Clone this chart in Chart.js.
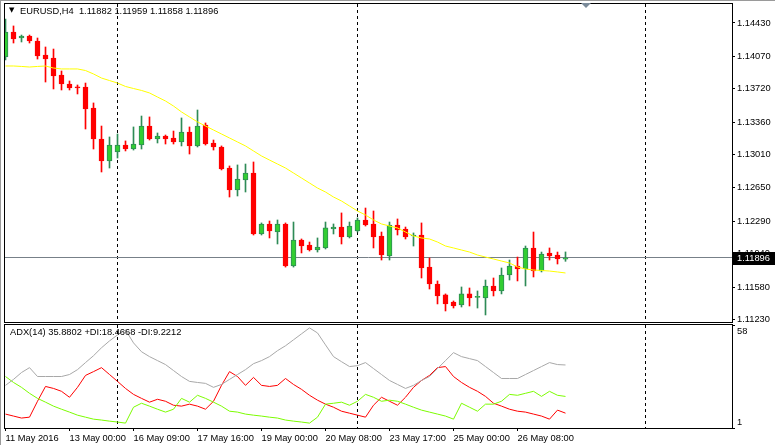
<!DOCTYPE html>
<html>
<head>
<meta charset="utf-8">
<script src="https://cdn.jsdelivr.net/npm/chart.js@4.4.1/dist/chart.umd.min.js"></script>
<style>
  html, body { margin: 0; padding: 0; background: #fff; }
  body { width: 775px; height: 445px; position: relative; overflow: hidden; font-family: "Liberation Sans", Arial, sans-serif; }
  #frame { position: absolute; left: 0; top: 0; width: 775px; height: 445px; border-left: 1px solid #9a9a9a; border-top: 1px solid #9a9a9a; box-sizing: border-box; pointer-events: none; }
  #mainWrap { position: absolute; left: 0; top: 0; width: 775px; height: 324px; }
  #adxWrap { position: absolute; left: 0; top: 323px; width: 775px; height: 122px; }
  canvas { display: block; }
  .hdr { position: absolute; font-size: 9.3px; line-height: 1; color: #000; white-space: pre; }
  #hdrArrow { left: 9px; top: 7px; font-size: 7px; font-family: "DejaVu Sans", sans-serif; }
  #hdrMain { left: 20px; top: 7px; }
  #hdrAdx { left: 10px; top: 328px; }
</style>
</head>
<body>
<div id="mainWrap"><canvas id="chartMain" width="775" height="324"></canvas></div>
<div id="adxWrap"><canvas id="chartAdx" width="775" height="122"></canvas></div>
<div id="hdrArrow" class="hdr">▼</div>
<div id="hdrMain" class="hdr"></div>
<div id="hdrAdx" class="hdr"></div>
<div id="frame"></div>
<script>
// EURUSD H4 candles, oldest first
const symbolName = 'EURUSD,H4';
const open = [1.14063, 1.14333, 1.14268, 1.14290, 1.14236, 1.14085, 1.14052, 1.13869, 1.13772, 1.13739,
  1.13739, 1.13513, 1.13178, 1.12941, 1.13038, 1.13113, 1.13070, 1.13113, 1.13318, 1.13178,
  1.13210, 1.13189, 1.13146, 1.13254, 1.13103, 1.13329, 1.13135, 1.13092, 1.12865, 1.12628,
  1.12736, 1.12811, 1.12153, 1.12261, 1.12174, 1.12261, 1.11807, 1.12088, 1.12034, 1.11980,
  1.12002, 1.12207, 1.12228, 1.12120, 1.12185, 1.12304, 1.12261, 1.12131, 1.11915, 1.12250,
  1.12207, 1.12131, 1.12142, 1.11796, 1.11613, 1.11495, 1.11419, 1.11387, 1.11506, 1.11468,
  1.11463, 1.11592, 1.11538, 1.11710, 1.11807, 1.11775, 1.12002, 1.11753, 1.11948, 1.11926,
  1.11882];
const high = [1.14473, 1.14398, 1.14300, 1.14300, 1.14268, 1.14171, 1.14149, 1.13912, 1.13804, 1.13761,
  1.13782, 1.13567, 1.13318, 1.13200, 1.13232, 1.13157, 1.13308, 1.13426, 1.13416, 1.13243,
  1.13221, 1.13264, 1.13405, 1.13308, 1.13491, 1.13351, 1.13167, 1.13103, 1.12887, 1.12898,
  1.12908, 1.12930, 1.12272, 1.12293, 1.12304, 1.12272, 1.12282, 1.12099, 1.12066, 1.12110,
  1.12282, 1.12261, 1.12380, 1.12282, 1.12326, 1.12433, 1.12401, 1.12174, 1.12282, 1.12315,
  1.12228, 1.12164, 1.12272, 1.11894, 1.11646, 1.11506, 1.11430, 1.11581, 1.11570, 1.11538,
  1.11656, 1.11678, 1.11786, 1.11872, 1.11904, 1.12023, 1.12174, 1.11958, 1.12002, 1.11958,
  1.11959];
const low = [1.14031, 1.14214, 1.14225, 1.14214, 1.14041, 1.13793, 1.13718, 1.13707, 1.13707, 1.13664,
  1.13286, 1.13070, 1.12822, 1.12865, 1.12973, 1.13049, 1.13059, 1.13070, 1.13167, 1.13135,
  1.13124, 1.13124, 1.13103, 1.13016, 1.13092, 1.13113, 1.13059, 1.12844, 1.12552, 1.12563,
  1.12606, 1.12142, 1.12142, 1.12110, 1.12045, 1.11796, 1.11796, 1.11948, 1.11969, 1.11958,
  1.11991, 1.12153, 1.12045, 1.12110, 1.12174, 1.12239, 1.12002, 1.11872, 1.11872, 1.12142,
  1.12099, 1.12023, 1.11678, 1.11559, 1.11398, 1.11322, 1.11354, 1.11365, 1.11376, 1.11354,
  1.11279, 1.11484, 1.11506, 1.11656, 1.11646, 1.11592, 1.11689, 1.11743, 1.11872, 1.11829,
  1.11858];
const close = [1.14333, 1.14257, 1.14290, 1.14236, 1.14074, 1.14041, 1.13858, 1.13772, 1.13729, 1.13729,
  1.13502, 1.13178, 1.12941, 1.13113, 1.13113, 1.13070, 1.13124, 1.13318, 1.13178, 1.13210,
  1.13178, 1.13146, 1.13254, 1.13103, 1.13318, 1.13124, 1.13092, 1.12854, 1.12628, 1.12746,
  1.12811, 1.12153, 1.12261, 1.12185, 1.12261, 1.11807, 1.12088, 1.12023, 1.11980, 1.12012,
  1.12218, 1.12228, 1.12120, 1.12239, 1.12304, 1.12250, 1.12120, 1.11926, 1.12250, 1.12196,
  1.12120, 1.12142, 1.11786, 1.11613, 1.11484, 1.11398, 1.11376, 1.11506, 1.11463, 1.11473,
  1.11592, 1.11538, 1.11710, 1.11807, 1.11775, 1.12002, 1.11753, 1.11937, 1.11915, 1.11883,
  1.11896];
// moving average (yellow)
const movingAvg = [1.13966, 1.13966, 1.13961, 1.13955, 1.13961, 1.13966, 1.13944, 1.13934, 1.13934, 1.13934,
  1.13917, 1.13880, 1.13836, 1.13809, 1.13782, 1.13745, 1.13723, 1.13702, 1.13675, 1.13631,
  1.13588, 1.13534, 1.13470, 1.13416, 1.13362, 1.13318, 1.13275, 1.13232, 1.13189, 1.13146,
  1.13103, 1.13049, 1.12995, 1.12951, 1.12908, 1.12865, 1.12811, 1.12757, 1.12703, 1.12649,
  1.12606, 1.12552, 1.12509, 1.12455, 1.12401, 1.12358, 1.12304, 1.12261, 1.12239, 1.12218,
  1.12174, 1.12131, 1.12110, 1.12099, 1.12066, 1.12023, 1.12002, 1.11980, 1.11958, 1.11926,
  1.11904, 1.11883, 1.11861, 1.11840, 1.11797, 1.11775, 1.11764, 1.11759, 1.11753, 1.11743,
  1.11732];
// ADX(14) window
const adx = [24.6, 27.9, 31.7, 34.4, 29.5, 29.5, 29.5, 29.5, 30.6, 33.3,
  37.2, 41.0, 45.4, 49.2, 52.5, 55.3, 48.1, 43.2, 40.5, 38.3,
  36.1, 32.8, 29.5, 26.8, 26.2, 25.7, 23.5, 25.1, 27.9, 30.6,
  33.3, 36.6, 38.3, 40.5, 43.8, 46.5, 49.8, 53.1, 56.4, 53.6,
  47.0, 40.5, 37.7, 35.0, 35.5, 37.2, 33.9, 30.6, 27.3, 25.1,
  22.9, 24.6, 27.3, 29.5, 33.9, 38.3, 42.7, 40.5, 39.4, 38.3,
  35.0, 31.7, 28.4, 28.4, 28.4, 30.6, 32.8, 35.0, 37.2, 36.1,
  35.8802];
const plusDI = [29.5, 26.2, 23.5, 20.2, 17.4, 15.3, 13.1, 11.4, 9.8, 8.1,
  7.0, 5.9, 5.4, 4.8, 4.3, 3.7, 12.5, 14.7, 13.1, 11.4,
  9.8, 11.4, 17.4, 15.3, 19.1, 17.4, 15.3, 13.1, 10.3, 9.8,
  8.7, 8.1, 7.6, 7.0, 6.5, 5.4, 4.8, 4.3, 3.7, 7.0,
  14.2, 14.7, 15.3, 13.6, 15.8, 19.6, 18.0, 15.8, 16.4, 15.8,
  14.2, 12.5, 10.9, 9.8, 8.7, 7.6, 5.9, 14.7, 12.5, 10.3,
  14.2, 14.2, 15.8, 19.6, 19.1, 20.2, 21.3, 18.5, 21.3, 19.1,
  18.4668];
const minusDI = [8.7, 7.6, 6.5, 7.0, 15.8, 24.0, 22.9, 21.3, 18.0, 23.5,
  30.1, 32.2, 34.4, 30.6, 26.8, 22.9, 19.6, 17.4, 15.3, 16.9,
  15.8, 13.6, 13.1, 14.2, 13.1, 11.4, 15.8, 24.6, 32.2, 29.5,
  24.6, 29.0, 24.6, 24.0, 24.6, 28.4, 25.1, 22.4, 19.1, 16.4,
  14.2, 12.5, 10.3, 9.2, 8.1, 7.0, 13.6, 18.0, 15.8, 13.6,
  18.0, 23.5, 27.3, 30.1, 34.4, 35.0, 29.5, 26.2, 23.5, 21.3,
  18.5, 14.7, 13.1, 11.4, 10.3, 9.8, 8.7, 7.6, 5.9, 10.9,
  9.2212];

const priceTicks = [1.14430, 1.14070, 1.13720, 1.13360, 1.13010, 1.12650, 1.12290, 1.11940, 1.11580, 1.11230];
const adxScale = [58, 1];
const timeTickBars = [0, 8, 16, 24, 32, 40, 48, 56, 64];
const timeTickLabels = ['11 May 2016', '13 May 00:00', '16 May 09:00', '17 May 16:00', '19 May 00:00',
  '20 May 08:00', '23 May 17:00', '25 May 00:00', '26 May 08:00'];
const separatorBars = [14, 44, 80];
const shiftMarkerBar = 72.5;

// view window (bar index range shown, price range shown)
const xMin = -0.0625, xMax = 90.8125;
const priceMin = 1.11203, priceMax = 1.14635;

const FONT = '"Liberation Sans", Arial, sans-serif';
const FONT_SIZE = 9.3;
Chart.defaults.font.family = FONT;
Chart.defaults.font.size = FONT_SIZE;
Chart.defaults.color = '#000';

const BULL = '#32cd32', BULL_EDGE = '#2e8b57', BEAR = '#ff0000';
const last = close.length - 1;
const isBull = close.map((c, i) => c >= open[i]);

document.getElementById('hdrMain').textContent =
  symbolName + '  ' + [open[last], high[last], low[last], close[last]].map(v => v.toFixed(5)).join(' ');
document.getElementById('hdrAdx').textContent =
  'ADX(14) ' + adx[last].toFixed(4) + ' +DI:' + plusDI[last].toFixed(4) + ' -DI:' + minusDI[last].toFixed(4);

// fixed-width right price scale, no extra label padding
function fixRightAxis(s) {
  s.width = 43;
  s.paddingTop = 0;
  s.paddingBottom = 0;
}

// dashed separators + frame, shared by both panels
function drawSeparators(chart) {
  const { ctx, chartArea, scales } = chart;
  ctx.save();
  ctx.strokeStyle = '#000';
  ctx.lineWidth = 1;
  ctx.setLineDash([3, 3]);
  separatorBars.forEach(b => {
    const x = Math.round(scales.x.getPixelForValue(b) - 0.5) + 0.5;
    ctx.beginPath();
    ctx.moveTo(x, chartArea.top);
    ctx.lineTo(x, chartArea.bottom);
    ctx.stroke();
  });
  ctx.restore();
}
function drawFrame(chart) {
  const { ctx, chartArea } = chart;
  ctx.save();
  ctx.strokeStyle = '#000';
  ctx.lineWidth = 1;
  ctx.strokeRect(chartArea.left - 0.5, chartArea.top - 0.5,
    chartArea.right - chartArea.left + 1, chartArea.bottom - chartArea.top + 1);
  ctx.restore();
}

const mainDecor = {
  id: 'mainDecor',
  beforeDatasetsDraw(chart) {
    const { ctx, chartArea, scales } = chart;
    drawSeparators(chart);
    // bid line
    const y = Math.round(scales.y.getPixelForValue(close[last]) - 0.5) + 0.5;
    ctx.save();
    ctx.strokeStyle = '#778088';
    ctx.lineWidth = 1;
    ctx.beginPath();
    ctx.moveTo(chartArea.left, y);
    ctx.lineTo(chartArea.right, y);
    ctx.stroke();
    ctx.restore();
  },
  afterDraw(chart) {
    const { ctx, chartArea, scales } = chart;
    drawFrame(chart);
    const y = scales.y.getPixelForValue(close[last]);
    ctx.save();
    ctx.fillStyle = '#000';
    ctx.fillRect(chartArea.right + 1, Math.round(y) - 6, 43, 13);
    ctx.fillStyle = '#fff';
    ctx.font = FONT_SIZE + 'px ' + FONT;
    ctx.textBaseline = 'middle';
    ctx.fillText(close[last].toFixed(5), chartArea.right + 5, y + 0.5);
    // chart shift marker
    const sx = Math.round(scales.x.getPixelForValue(shiftMarkerBar));
    ctx.fillStyle = '#7a8a99';
    ctx.beginPath();
    ctx.moveTo(sx - 5, chartArea.top - 1);
    ctx.lineTo(sx + 5, chartArea.top - 1);
    ctx.lineTo(sx, chartArea.top + 4);
    ctx.closePath();
    ctx.fill();
    ctx.restore();
  }
};

const adxDecor = {
  id: 'adxDecor',
  beforeDatasetsDraw(chart) { drawSeparators(chart); },
  afterDraw(chart) {
    const { ctx, chartArea, scales } = chart;
    drawFrame(chart);
    ctx.save();
    ctx.fillStyle = '#000';
    ctx.font = FONT_SIZE + 'px ' + FONT;
    ctx.textBaseline = 'middle';
    ctx.fillText(String(adxScale[0]), chartArea.right + 5, scales.y.getPixelForValue(adxScale[0]) + 6);
    ctx.fillText(String(adxScale[1]), chartArea.right + 5, scales.y.getPixelForValue(adxScale[1]) - 6);
    ctx.restore();
  }
};

const idx = close.map((_, i) => i);

new Chart(document.getElementById('chartMain'), {
  type: 'bar',
  data: {
    datasets: [
      {
        type: 'line',
        data: idx.map(i => ({ x: i, y: movingAvg[i] })),
        borderColor: '#ffff00',
        borderWidth: 1,
        pointRadius: 0,
        tension: 0,
        order: 0
      },
      {
        data: idx.map(i => ({ x: i, y: [open[i], close[i]] })),
        backgroundColor: isBull.map(b => b ? BULL : BEAR),
        borderColor: isBull.map(b => b ? BULL_EDGE : BEAR),
        borderWidth: 1,
        borderSkipped: false,
        barThickness: 5,
        minBarLength: 1,
        grouped: false,
        order: 1
      },
      {
        data: idx.map(i => ({ x: i, y: [low[i], high[i]] })),
        backgroundColor: isBull.map(b => b ? BULL_EDGE : BEAR),
        borderWidth: 0,
        barThickness: 1,
        grouped: false,
        order: 2
      }
    ]
  },
  options: {
    responsive: false,
    animation: false,
    events: [],
    layout: { padding: { left: 5, top: 4, right: 0, bottom: 2 } },
    plugins: { legend: { display: false }, tooltip: { enabled: false } },
    scales: {
      x: { type: 'linear', display: false, min: xMin, max: xMax, offset: false },
      y: {
        position: 'right',
        min: priceMin,
        max: priceMax,
        afterBuildTicks: s => { s.ticks = priceTicks.map(v => ({ value: v })); },
        afterFit: fixRightAxis,
        ticks: { callback: v => Number(v).toFixed(5), padding: 2, color: '#000' },
        grid: { drawOnChartArea: false, drawTicks: true, tickLength: 3, color: '#000' },
        border: { display: true, color: '#000' }
      }
    }
  },
  plugins: [mainDecor]
});

new Chart(document.getElementById('chartAdx'), {
  type: 'line',
  data: {
    datasets: [
      { data: idx.map(i => ({ x: i, y: adx[i] })), borderColor: '#a8a8a8' },
      { data: idx.map(i => ({ x: i, y: plusDI[i] })), borderColor: '#7cfc00' },
      { data: idx.map(i => ({ x: i, y: minusDI[i] })), borderColor: '#ff0000' }
    ]
  },
  options: {
    responsive: false,
    animation: false,
    events: [],
    elements: { line: { borderWidth: 1, tension: 0 }, point: { radius: 0 } },
    layout: { padding: { left: 5, top: 2, right: 0, bottom: 0 } },
    plugins: { legend: { display: false }, tooltip: { enabled: false } },
    scales: {
      x: {
        type: 'linear',
        min: xMin,
        max: xMax,
        offset: false,
        afterBuildTicks: s => { s.ticks = timeTickBars.map(v => ({ value: v })); },
        afterFit: s => { s.height = 17; s.paddingLeft = 0; s.paddingRight = 0; },
        ticks: {
          autoSkip: false, maxRotation: 0, minRotation: 0, align: 'start', padding: 2,
          callback: v => timeTickLabels[timeTickBars.indexOf(v)]
        },
        grid: { drawOnChartArea: false, tickLength: 3, color: '#000' },
        border: { display: true, color: '#000' }
      },
      y: {
        position: 'right',
        min: adxScale[1],
        max: adxScale[0],
        afterBuildTicks: s => { s.ticks = adxScale.map(v => ({ value: v })); },
        afterFit: fixRightAxis,
        ticks: { display: false },
        grid: { drawOnChartArea: false, tickLength: 3, color: '#000' },
        border: { display: true, color: '#000' }
      }
    }
  },
  plugins: [adxDecor]
});
</script>
</body>
</html>
